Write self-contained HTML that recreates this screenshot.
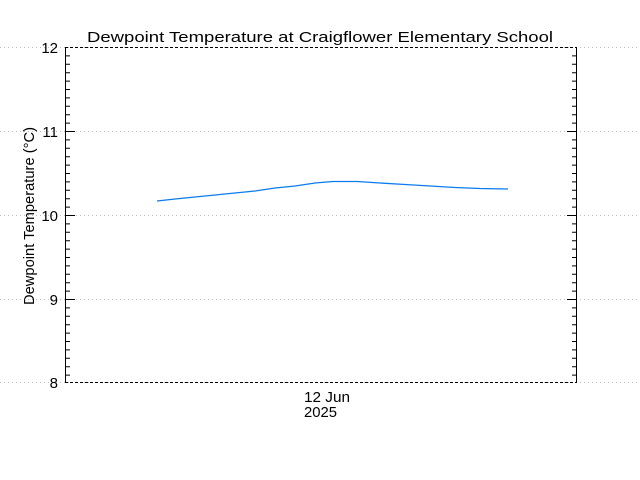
<!DOCTYPE html>
<html><head><style>body{margin:0;background:#fff}svg{display:block}</style></head><body>
<svg width="640" height="480" xmlns="http://www.w3.org/2000/svg" font-family="Liberation Sans, DejaVu Sans, sans-serif">
<rect width="640" height="480" fill="#fff"/>
<g stroke="#bbb" stroke-dasharray="1,3" stroke-width="1">
<line x1="0" y1="47.5" x2="640" y2="47.5"/>
<line x1="0" y1="131.5" x2="640" y2="131.5"/>
<line x1="0" y1="215.5" x2="640" y2="215.5"/>
<line x1="0" y1="299.5" x2="640" y2="299.5"/>
<line x1="0" y1="382.5" x2="640" y2="382.5"/>
</g>
<g stroke="#000" stroke-width="1" fill="none">
<line x1="65.5" y1="47" x2="65.5" y2="383"/>
<line x1="576.5" y1="47" x2="576.5" y2="383"/>
<line x1="65" y1="47.5" x2="577" y2="47.5" stroke-dasharray="3,2"/>
<line x1="65" y1="382.5" x2="577" y2="382.5" stroke-dasharray="3,2"/>
<path id="t" d="
M65,55.9h5M65,64.3h5M65,72.7h5M65,81.1h5M65,89.5h5M65,97.9h5M65,106.3h5M65,114.7h5M65,123.1h5M65,131.5h10
M65,139.9h5M65,148.3h5M65,156.7h5M65,165.1h5M65,173.5h5M65,181.9h5M65,190.3h5M65,198.7h5M65,207.1h5M65,215.5h10
M65,223.9h5M65,232.3h5M65,240.7h5M65,249.1h5M65,257.5h5M65,265.9h5M65,274.3h5M65,282.7h5M65,291.1h5M65,299.5h10
M65,307.9h5M65,316.3h5M65,324.7h5M65,333.1h5M65,341.5h5M65,349.9h5M65,358.3h5M65,366.7h5M65,375.1h5"/>
<use href="#t" transform="translate(642,0) scale(-1,1)"/>
</g>
<polyline fill="none" stroke="#0a7cf0" stroke-width="1.3" points="157,201 175,199 195,197 215,195 235,193 255,191 275,188 295,186 315,183 333,181.5 357,181.5 380,183 405,184.5 430,186 455,187.5 480,188.5 508,189"/>
<g font-size="15" fill="#000">
<text x="87" y="42" textLength="466" lengthAdjust="spacingAndGlyphs">Dewpoint Temperature at Craigflower Elementary School</text>
<g text-anchor="end">
<text x="58" y="53">12</text>
<text x="58" y="137">11</text>
<text x="58" y="221">10</text>
<text x="58" y="305">9</text>
<text x="58" y="388">8</text>
</g>
<text x="304" y="402" textLength="46" lengthAdjust="spacingAndGlyphs">12 Jun</text>
<text x="304" y="417" textLength="33" lengthAdjust="spacingAndGlyphs">2025</text>
<text transform="translate(34,305) rotate(-90)" textLength="178" lengthAdjust="spacingAndGlyphs">Dewpoint Temperature (°C)</text>
</g>
</svg>
</body></html>
